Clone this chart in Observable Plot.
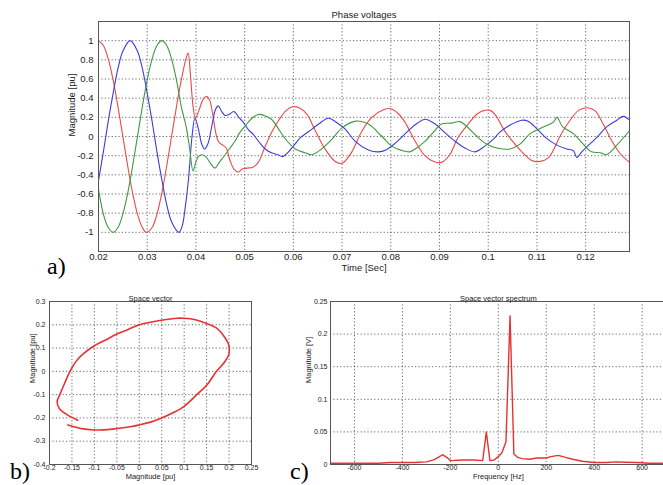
<!DOCTYPE html>
<html><head><meta charset="utf-8">
<script src="https://cdn.jsdelivr.net/npm/d3@7"></script>
<script src="https://cdn.jsdelivr.net/npm/@observablehq/plot@0.6"></script>
<style>
html,body{margin:0;padding:0;background:#fff;overflow:hidden;width:663px;height:485px;}
#fig{position:relative;width:663px;height:485px;overflow:hidden;}
.panel{position:absolute;}
.lbl{position:absolute;font-family:"Liberation Serif","Times New Roman",serif;font-size:24px;line-height:1;color:#000;}
</style></head><body><div id="fig"></div>
<script>
// ---- Panel a: phase voltages [time (s), value (pu)] ----
const redPhase = [[0.020,1.0],[0.021,0.95],[0.022,0.81],[0.023,0.59],[0.024,0.31],[0.025,0.0],[0.026,-0.31],[0.027,-0.59],[0.028,-0.81],[0.029,-0.95],[0.0298,-1.0],[0.031,-0.95],[0.032,-0.81],[0.033,-0.59],[0.034,-0.31],[0.035,0.0],[0.036,0.31],[0.037,0.59],[0.038,0.82],[0.0384,0.87],[0.0389,0.62],[0.0394,0.32],[0.0399,0.19],[0.0406,0.27],[0.0415,0.39],[0.0422,0.42],[0.0428,0.38],[0.0434,0.25],[0.0441,0.03],[0.0447,-0.06],[0.0455,-0.09],[0.0462,-0.12],[0.0470,-0.25],[0.0478,-0.34],[0.0487,-0.37],[0.0495,-0.34],[0.0505,-0.33],[0.0517,-0.32],[0.0528,-0.27],[0.054,-0.13],[0.0556,0.05],[0.057,0.17],[0.0585,0.27],[0.0598,0.31],[0.0612,0.30],[0.0628,0.23],[0.0645,0.06],[0.0665,-0.13],[0.0686,-0.26],[0.0700,-0.28],[0.0720,-0.16],[0.0740,0.05],[0.0761,0.2],[0.0785,0.28],[0.0800,0.29],[0.0815,0.24],[0.0829,0.15],[0.0850,-0.05],[0.0870,-0.2],[0.0888,-0.26],[0.0904,-0.27],[0.0921,-0.19],[0.0938,-0.01],[0.0959,0.13],[0.0976,0.23],[0.0990,0.27],[0.1005,0.27],[0.1018,0.2],[0.1031,0.08],[0.1045,-0.02],[0.1069,-0.16],[0.1089,-0.25],[0.1106,-0.26],[0.1124,-0.22],[0.1136,-0.12],[0.1147,0.0],[0.1168,0.17],[0.1185,0.27],[0.1202,0.30],[0.1219,0.27],[0.1236,0.13],[0.1253,-0.04],[0.1271,-0.18],[0.1290,-0.27]];
const bluePhase = [[0.020,-0.46],[0.021,-0.16],[0.022,0.16],[0.023,0.45],[0.024,0.71],[0.025,0.89],[0.0265,1.0],[0.028,0.89],[0.029,0.71],[0.030,0.45],[0.031,0.16],[0.032,-0.16],[0.033,-0.45],[0.034,-0.71],[0.035,-0.89],[0.0365,-1.0],[0.0372,-0.93],[0.0378,-0.74],[0.0385,-0.43],[0.0392,0.0],[0.0398,0.19],[0.0405,0.08],[0.0412,-0.08],[0.0418,-0.13],[0.0425,-0.07],[0.0433,0.12],[0.0440,0.28],[0.0446,0.32],[0.0453,0.26],[0.046,0.22],[0.0468,0.23],[0.0478,0.26],[0.0488,0.2],[0.0497,0.15],[0.0508,0.07],[0.0518,0.02],[0.053,-0.06],[0.0542,-0.13],[0.0555,-0.17],[0.0568,-0.19],[0.0578,-0.21],[0.0588,-0.17],[0.060,-0.1],[0.0615,-0.01],[0.0631,0.05],[0.0652,0.13],[0.0672,0.19],[0.0693,0.13],[0.0706,0.08],[0.0727,-0.05],[0.0754,-0.14],[0.0775,-0.16],[0.079,-0.14],[0.0802,-0.1],[0.082,-0.02],[0.0839,0.075],[0.0855,0.14],[0.087,0.18],[0.0891,0.13],[0.0911,0.04],[0.0932,-0.05],[0.0952,-0.12],[0.0973,-0.16],[0.0993,-0.1],[0.101,-0.03],[0.1024,0.045],[0.1045,0.12],[0.1069,0.17],[0.1082,0.16],[0.110,0.08],[0.112,-0.02],[0.1141,-0.09],[0.1161,-0.13],[0.1175,-0.15],[0.1182,-0.22],[0.1192,-0.16],[0.1206,-0.09],[0.1223,-0.01],[0.1243,0.1],[0.1264,0.17],[0.1277,0.21],[0.129,0.17]];
const greenPhase = [[0.020,-0.55],[0.021,-0.81],[0.022,-0.95],[0.023,-1.0],[0.024,-0.95],[0.025,-0.81],[0.026,-0.59],[0.027,-0.31],[0.028,0.0],[0.029,0.31],[0.030,0.59],[0.031,0.81],[0.032,0.95],[0.033,1.0],[0.034,0.95],[0.035,0.81],[0.036,0.59],[0.037,0.31],[0.038,0.1],[0.0387,-0.12],[0.0394,-0.36],[0.0399,-0.28],[0.0405,-0.21],[0.0412,-0.19],[0.042,-0.21],[0.043,-0.28],[0.0439,-0.33],[0.0448,-0.27],[0.046,-0.19],[0.047,-0.12],[0.048,-0.05],[0.049,0.04],[0.0501,0.11],[0.0515,0.19],[0.0528,0.23],[0.054,0.22],[0.0555,0.18],[0.0572,0.06],[0.0586,-0.04],[0.0604,-0.13],[0.0624,-0.17],[0.0638,-0.19],[0.0658,-0.13],[0.0679,-0.03],[0.070,0.09],[0.0728,0.16],[0.0754,0.13],[0.0781,0.005],[0.0802,-0.1],[0.0822,-0.145],[0.0839,-0.16],[0.085,-0.13],[0.087,-0.05],[0.0891,0.065],[0.0904,0.13],[0.0925,0.14],[0.0942,0.155],[0.0955,0.11],[0.0976,0.005],[0.0997,-0.08],[0.1018,-0.12],[0.1045,-0.13],[0.1065,-0.08],[0.1086,0.03],[0.1113,0.1],[0.1134,0.15],[0.1141,0.2],[0.1153,0.1],[0.1175,0.03],[0.1195,-0.08],[0.1212,-0.16],[0.123,-0.17],[0.1243,-0.19],[0.1264,-0.09],[0.129,0.06]];
const timeTicks = [0.02,0.03,0.04,0.05,0.06,0.07,0.08,0.09,0.1,0.11,0.12];
const voltTicks = [-1,-0.8,-0.6,-0.4,-0.2,0,0.2,0.4,0.6,0.8,1];

// ---- Panel b: space vector [real (pu), imag (pu)] ----
const spaceVector = [[-0.159,-0.23],[-0.124,-0.247],[-0.098,-0.252],[-0.06,-0.248],[-0.02,-0.238],[0,-0.23],[0.025,-0.218],[0.05,-0.2],[0.075,-0.178],[0.1,-0.15],[0.128,-0.1],[0.15,-0.06],[0.172,0],[0.19,0.04],[0.2,0.075],[0.199,0.115],[0.189,0.15],[0.173,0.185],[0.15,0.206],[0.125,0.222],[0.1,0.228],[0.084,0.228],[0.06,0.223],[0.03,0.213],[0,0.2],[-0.025,0.18],[-0.05,0.16],[-0.075,0.135],[-0.1,0.11],[-0.125,0.075],[-0.14,0.045],[-0.153,0.005],[-0.166,-0.05],[-0.177,-0.1],[-0.183,-0.13],[-0.178,-0.16],[-0.162,-0.185],[-0.137,-0.21]];
const svXTicks = [-0.2,-0.15,-0.1,-0.05,0,0.05,0.1,0.15,0.2,0.25];
const svYTicks = [-0.4,-0.3,-0.2,-0.1,0,0.1,0.2,0.3];

// ---- Panel c: space vector spectrum [frequency (Hz), magnitude (V)] ----
const spectrum = [[-700,0.002],[-600,0.002],[-500,0.002],[-450,0.003],[-400,0.003],[-350,0.003],[-300,0.004],[-270,0.007],[-250,0.011],[-233,0.015],[-215,0.011],[-200,0.006],[-150,0.007],[-100,0.007],[-65,0.006],[-50,0.05],[-35,0.006],[-18,0.007],[0,0.012],[15,0.018],[32,0.035],[49,0.228],[65,0.016],[80,0.011],[100,0.009],[130,0.008],[160,0.01],[200,0.01],[220,0.012],[250,0.014],[280,0.011],[310,0.008],[350,0.005],[400,0.003],[450,0.003],[490,0.004],[530,0.0035],[580,0.003],[630,0.002],[700,0.002]];
const freqTicks = [-600,-400,-200,0,200,400,600];
const magTicks = [0,0.05,0.1,0.15,0.2,0.25];

const FONT = '"Liberation Sans",Arial,sans-serif';
const fmt = d => String(+(+d).toFixed(3));
const gridStyle = {stroke:"#222", strokeWidth:0.8, strokeDasharray:"1.2,2.2", strokeOpacity:0.85};
const fig = document.getElementById("fig");

function place(el, left, top){ el.classList.add("panel"); el.style.left = left+"px"; el.style.top = top+"px"; fig.appendChild(el); }

// Panel a
const rows = (arr, s) => arr.map(([t,v]) => ({t, v, s}));
const phaseRows = [...rows(redPhase,"a"), ...rows(bluePhase,"b"), ...rows(greenPhase,"c")];
const pa = Plot.plot({
  width: 663, height: 280,
  marginLeft: 98, marginRight: 34, marginTop: 21, marginBottom: 29,
  style: {fontFamily: FONT, fontSize: "9.5px", background: "transparent", color: "#222"},
  x: {domain: [0.02, 0.129], ticks: timeTicks, tickFormat: fmt, tickSize: 0, tickPadding: 2, label: null},
  y: {domain: [-1.2, 1.2], ticks: voltTicks, tickFormat: fmt, tickSize: 0, tickPadding: 5, label: null},
  color: {domain: ["a","b","c"], range: ["#ea4a48","#3c3cdc","#3f9a3f"]},
  marks: [
    Plot.ruleX(timeTicks, gridStyle),
    Plot.ruleY(voltTicks, gridStyle),
    Plot.line(phaseRows, {x:"t", y:"v", z:"s", stroke:"s", strokeWidth:1.1, curve:"catmull-rom"}),
    Plot.frame({stroke:"#555", strokeWidth:1}),
    Plot.text(["Phase voltages"], {frameAnchor:"top", dy:-10, fontSize:9.5}),
    Plot.text(["Time [Sec]"], {frameAnchor:"bottom", dy:19, fontSize:9.5}),
    Plot.text(["Magnitude [pu]"], {frameAnchor:"left", dx:-27, rotate:-90, fontSize:9.5})
  ]
});
place(pa, 0, 0);

// Panel b
const pb = Plot.plot({
  width: 280, height: 205,
  marginLeft: 49, marginRight: 29, marginTop: 21, marginBottom: 21,
  style: {fontFamily: FONT, fontSize: "7px", background: "transparent", color: "#222"},
  x: {domain: [-0.2, 0.25], ticks: svXTicks, tickFormat: fmt, tickSize: 0, tickPadding: 1, label: null},
  y: {domain: [-0.4, 0.3], ticks: svYTicks, tickFormat: fmt, tickSize: 0, tickPadding: 4, label: null},
  marks: [
    Plot.ruleX(svXTicks, gridStyle),
    Plot.ruleY(svYTicks, gridStyle),
    Plot.line(spaceVector, {x: d => d[0], y: d => d[1], stroke:"#e53232", strokeWidth:1.6, curve:"catmull-rom"}),
    Plot.frame({stroke:"#555", strokeWidth:1}),
    Plot.text(["Space vector"], {frameAnchor:"top", dy:-6, fontSize:7.5}),
    Plot.text(["Magnitude [pu]"], {frameAnchor:"bottom", dy:14, fontSize:7.5}),
    Plot.text(["Magnitude [pu]"], {frameAnchor:"left", dx:-17, rotate:-90, fontSize:7.5})
  ]
});
place(pb, 0, 280);

// Panel c
const pc = Plot.plot({
  width: 400, height: 205,
  marginLeft: 50, marginRight: 14.4, marginTop: 21, marginBottom: 21,
  style: {fontFamily: FONT, fontSize: "7px", background: "transparent", color: "#222"},
  x: {domain: [-700, 700], ticks: freqTicks, tickFormat: fmt, tickSize: 0, tickPadding: 1, label: null},
  y: {domain: [0, 0.25], ticks: magTicks, tickFormat: fmt, tickSize: 0, tickPadding: 3, label: null},
  marks: [
    Plot.ruleX(freqTicks, gridStyle),
    Plot.ruleY(magTicks, gridStyle),
    Plot.line(spectrum, {x: d => d[0], y: d => d[1], stroke:"#e53232", strokeWidth:1.4}),
    Plot.frame({stroke:"#555", strokeWidth:1}),
    Plot.text(["Space vector spectrum"], {frameAnchor:"top", dy:-6, fontSize:7.5}),
    Plot.text(["Frequency [Hz]"], {frameAnchor:"bottom", dy:14, fontSize:7.5}),
    Plot.text(["Magnitude [V]"], {frameAnchor:"left", dx:-22, rotate:-90, fontSize:7.5})
  ]
});
place(pc, 280, 280);

// Panel letters
[["a)", 47, 254], ["b)", 10, 459], ["c)", 290, 459]].forEach(([s,x,y]) => {
  const d = document.createElement("div"); d.className = "lbl"; d.textContent = s;
  d.style.left = x+"px"; d.style.top = y+"px"; fig.appendChild(d);
});
</script></body></html>
